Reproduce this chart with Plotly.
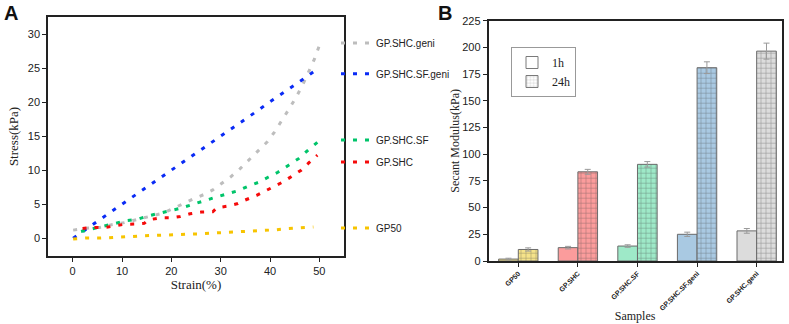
import plotly.graph_objects as go

# ---------- Panel A data ----------
geni_x = [0.1, 3.2, 5.5, 7.9, 10.5, 13.0, 15.5, 18.4, 20.4, 22.3, 24.5, 26.5, 28.4, 30.1, 32.0, 33.9, 35.8,
          37.6, 39.5, 40.9, 42.2, 43.7, 45.2, 46.6, 47.8, 49.0, 50.0]
geni_y = [1.2, 1.5, 1.6, 2.0, 2.3, 2.7, 3.2, 3.7, 4.4, 5.0, 5.8, 6.4, 7.1, 8.0, 9.0, 10.2, 11.6,
          12.9, 14.2, 15.6, 17.0, 18.8, 20.6, 22.5, 24.4, 26.3, 28.3]

sfgeni_x = [0.1, 2.4, 4.7, 7.0, 9.3, 11.6, 14.0, 16.3, 18.7, 21.0, 23.3, 25.7, 27.9, 30.3, 32.6, 35.0,
            37.4, 39.7, 42.0, 44.4, 46.8, 49.1]
sfgeni_y = [0.0, 1.2, 2.35, 3.5, 4.66, 5.8, 7.0, 8.2, 9.36, 10.5, 11.7, 12.9, 14.0, 15.2, 16.3, 17.5,
            18.7, 19.9, 21.0, 22.2, 23.4, 24.6]

sf_x = [1.7, 4.2, 6.3, 8.7, 10.8, 13.2, 15.3, 17.4, 19.5, 21.8, 23.9, 26.1, 28.4, 30.7, 33.1, 35.4,
        37.6, 39.7, 41.6, 43.7, 45.8, 47.8, 49.6]
sf_y = [1.0, 1.4, 1.75, 2.2, 2.6, 2.8, 3.3, 3.7, 4.0, 4.4, 4.9, 5.4, 5.9, 6.4, 6.9, 7.6,
        8.2, 9.0, 9.7, 10.7, 11.7, 13.0, 14.1]

shc_x = [2.0, 4.6, 6.3, 8.4, 10.4, 13.1, 14.5, 15.3, 17.7, 20.0, 21.8, 23.8, 26.1, 28.4, 29.3, 31.2,
         33.5, 34.9, 35.7, 37.3, 38.9, 40.9, 42.7, 44.4, 46.3, 47.9, 49.6]
shc_y = [1.45, 1.6, 1.55, 1.8, 2.05, 2.1, 2.2, 2.7, 3.0, 3.0, 3.2, 3.6, 3.85, 3.9, 4.5, 4.7,
         5.1, 5.6, 5.8, 6.3, 6.9, 7.6, 8.3, 9.1, 10.0, 11.1, 12.2]

gp50_x = [0.1, 2.9, 5.7, 8.4, 11.0, 12.7, 15.5, 18.2, 20.4, 23.1, 25.4, 28.2, 30.6, 33.4, 35.6, 38.2,
          41.1, 43.3, 45.9, 48.8]
gp50_y = [-0.1, 0.05, 0.03, 0.15, 0.2, 0.3, 0.4, 0.45, 0.55, 0.6, 0.65, 0.75, 0.85, 0.95, 1.05, 1.1,
          1.25, 1.4, 1.55, 1.65]

# ---------- Panel B data ----------
samples = ["GP50", "GP.SHC", "GP.SHC.SF", "GP.SHC.SF.geni", "GP.SHC.geni"]
mod_1h = [1.8, 12.5, 14.0, 25.0, 28.2]
err_1h = [0.8, 1.2, 1.2, 2.0, 2.2]
mod_24h = [10.8, 83.5, 90.5, 181.0, 196.5]
err_24h = [1.5, 2.3, 2.6, 5.5, 7.5]
bar_colors = ["#f5e38a", "#fb9c9c", "#9ee9c8", "#a9c9e2", "#dcdcdc"]

fig = go.Figure()

curve_specs = [
    ("GP.SHC.geni", geni_x, geni_y, "#bdbdbd", "legend", 0.867),
    ("GP.SHC.SF.geni", sfgeni_x, sfgeni_y, "#0a2bf5", "legend2", 0.772),
    ("GP.SHC.SF", sf_x, sf_y, "#00c46a", "legend3", 0.568),
    ("GP.SHC", shc_x, shc_y, "#f50a0a", "legend4", 0.500),
    ("GP50", gp50_x, gp50_y, "#f7c400", "legend5", 0.296),
]
for name, xs, ys, col, lg, _ in curve_specs:
    fig.add_trace(go.Scatter(x=xs, y=ys, mode="lines", name=name, legend=lg,
                             line=dict(color=col, width=3, dash="4px,8px"),
                             xaxis="x", yaxis="y"))

# bars
fig.add_trace(go.Bar(x=samples, y=mod_1h, name="1h", showlegend=False,
                     marker=dict(color=bar_colors, line=dict(color="#6a6a6a", width=1)),
                     error_y=dict(type="data", array=err_1h, color="#9a9a9a", thickness=1, width=3),
                     xaxis="x2", yaxis="y2", offsetgroup="a"))
fig.add_trace(go.Bar(x=samples, y=mod_24h, name="24h", showlegend=False,
                     marker=dict(color=bar_colors, line=dict(color="#6a6a6a", width=1),
                                 pattern=dict(shape="+", fgcolor="#6f6f6f", size=5, solidity=0.2)),
                     error_y=dict(type="data", array=err_24h, color="#9a9a9a", thickness=1, width=3),
                     xaxis="x2", yaxis="y2", offsetgroup="b"))
# legend dummies for panel B
fig.add_trace(go.Bar(x=[None], y=[None], name="1h", legend="legend6",
                     marker=dict(color="white", line=dict(color="#7a7a7a", width=1)),
                     xaxis="x2", yaxis="y2", offsetgroup="a"))
fig.add_trace(go.Bar(x=[None], y=[None], name="24h", legend="legend6",
                     marker=dict(color="white", line=dict(color="#7a7a7a", width=1),
                                 pattern=dict(shape="+", fgcolor="#7a7a7a", size=4, solidity=0.2)),
                     xaxis="x2", yaxis="y2", offsetgroup="b"))

sans = "Liberation Sans, Arial, sans-serif"
serif = "Liberation Serif, Times New Roman, serif"

axis_common = dict(showline=True, linecolor="#222", linewidth=1.5, mirror=True, ticks="outside",
                   ticklen=4, tickcolor="#222", tickwidth=1.2, showgrid=False, zeroline=False,
                   automargin=False)

leg_common = dict(xanchor="left", yanchor="middle", bgcolor="rgba(0,0,0,0)",
                  font=dict(family=sans, size=10, color="#222"), itemwidth=30)

layout = dict(
    width=789, height=324, margin=dict(l=0, r=0, t=0, b=0, autoexpand=False),
    plot_bgcolor="white", paper_bgcolor="white",
    barmode="group", bargap=0.34, bargroupgap=0,
    xaxis=dict(domain=[48/789, 344/789], range=[-5, 55], tickvals=[0, 10, 20, 30, 40, 50],
               tickfont=dict(family=sans, size=11, color="#222"),
               title=dict(text="Strain(%)", font=dict(family=serif, size=13, color="#222"), standoff=0),
               anchor="y", **axis_common),
    yaxis=dict(domain=[1-256/324, 1-17/324], range=[-2.6, 32.5], tickvals=[0, 5, 10, 15, 20, 25, 30],
               tickfont=dict(family=sans, size=11, color="#222"),
               title=dict(text="Stress(kPa)", font=dict(family=serif, size=13, color="#222"), standoff=6),
               anchor="x", **axis_common),
    xaxis2=dict(domain=[488.5/789, 781.7/789], range=[-0.5, 4.42], tickangle=-45,
                tickfont=dict(family=sans, size=7, color="#222", weight="bold"),
                title=dict(text="Samples", font=dict(family=serif, size=12, color="#222"), standoff=0),
                anchor="y2", **axis_common),
    yaxis2=dict(domain=[1-261/324, 1-20.7/324], range=[0, 225], tickvals=list(range(0, 226, 25)),
                tickfont=dict(family=sans, size=11, color="#222"),
                title=dict(text="Secant Modulus(kPa)", font=dict(family=serif, size=12, color="#222"), standoff=0),
                anchor="x2", **axis_common),
    legend6=dict(x=511/789, y=1-47/324, xanchor="left", yanchor="top", bgcolor="white",
                 bordercolor="#999", borderwidth=1, font=dict(family=serif, size=12, color="#222"),
                 tracegroupgap=0, itemwidth=30),
    annotations=[
        dict(text="<b>A</b>", x=2/789, y=1-0/324, xref="paper", yref="paper", xanchor="left", yanchor="top",
             showarrow=False, font=dict(family=sans, size=20, color="#111")),
        dict(text="<b>B</b>", x=436/789, y=1-0/324, xref="paper", yref="paper", xanchor="left", yanchor="top",
             showarrow=False, font=dict(family=sans, size=20, color="#111")),
    ],
)
for name, xs, ys, col, lg, ly in curve_specs:
    layout[lg] = dict(x=336/789, y=ly, **leg_common)

fig.update_layout(**layout)
fig.write_html("out.html", config={"displayModeBar": False},
               post_script="document.body.style.margin='0';document.body.style.overflow='hidden';")
